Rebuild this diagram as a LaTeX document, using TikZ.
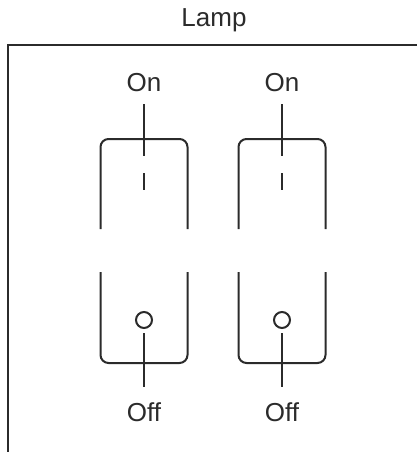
\documentclass[tikz,border=0pt]{standalone}
\usepackage{fontspec}
\setmainfont{Liberation Sans}
\usetikzlibrary{positioning}
\definecolor{ink}{HTML}{2B2B2B}

\begin{document}
\begin{tikzpicture}[x=1pt, y=-1pt, line width=2pt, draw=ink,
    lbl/.style={font=\fontsize{26}{30}\selectfont, text=ink, inner sep=0pt},
    knob/.style={draw=ink, circle, minimum size=16pt, inner sep=0pt}]
    \useasboundingbox (0,0) rectangle (417,452);
    \node[lbl] (title) at (214,20) {Lamp};
    \draw (417,45) -- (8,45) -- (8,452);
    \foreach \x/\i in {144/1,282/2}
    {
    \node[lbl] (on\i) at (\x,83) {On};
    \node[lbl] (off\i) at (\x,412) {Off};
    \node[knob] (knob\i) at (\x,320) {};
    \coordinate (ontip\i) at (\x,156);
    \coordinate (offtip\i) at (\x,387);
    \draw[rounded corners=8pt] (\x-43.5,229) -- (\x-43.5,139) -- (\x+43.5,139) -- (\x+43.5,229);
    \draw[rounded corners=8pt] (\x-43.5,272) -- (\x-43.5,363) -- (\x+43.5,363) -- (\x+43.5,272);
    \draw (\x,104) -- (ontip\i);
    \draw (\x,173) -- (\x,190);
    \draw (\x,333) -- (offtip\i);
    }
\end{tikzpicture}
\end{document}
